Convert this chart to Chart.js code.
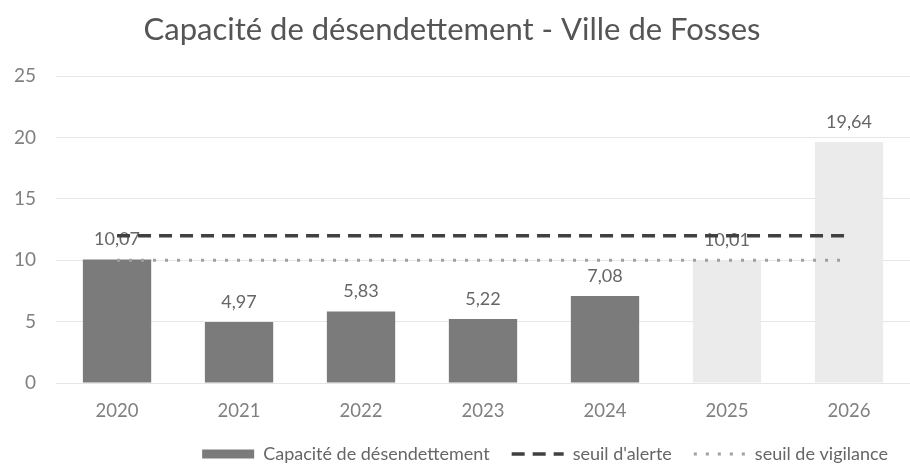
<!DOCTYPE html>
<html>
<head>
<meta charset="utf-8">
<script src="https://cdn.jsdelivr.net/npm/chart.js@4/dist/chart.umd.min.js"></script>
<style>
  html, body { margin: 0; padding: 0; background: #fff; overflow: hidden; }
  #wrap { width: 910px; height: 470px; }
</style>
</head>
<body>
<div id="wrap"><canvas id="myChart"></canvas></div>
<script>
var annees = ['2020', '2021', '2022', '2023', '2024', '2025', '2026'];
var capacite = [10.07, 4.97, 5.83, 5.22, 7.08, 10.01, 19.64];
var seuilAlerte = [12, 12, 12, 12, 12, 12, 12];
var seuilVigilance = [10, 10, 10, 10, 10, 10, 10];
var couleursBarres = ['#7b7b7b', '#7b7b7b', '#7b7b7b', '#7b7b7b', '#7b7b7b', '#ebebeb', '#ebebeb'];

var police = 'Lato, "Liberation Sans", sans-serif';

// valeurs au-dessus des barres, format francais
var etiquettes = {
    id: 'etiquettes',
    afterDatasetDraw: function (chart, args) {
        if (args.index !== 0) return;
        var ctx = chart.ctx;
        ctx.save();
        ctx.font = '18px ' + police;
        ctx.fillStyle = '#666';
        ctx.textAlign = 'center';
        ctx.textBaseline = 'alphabetic';
        args.meta.data.forEach(function (bar, i) {
            ctx.fillText(capacite[i].toFixed(2).replace('.', ','), bar.x, bar.y - 14);
        });
        ctx.restore();
    }
};

var ctx = document.getElementById('myChart');

const myChart = new Chart(ctx, {
    data: {
        labels: annees,
        datasets: [{
            type: 'bar',
            label: 'Capacité de désendettement',
            data: capacite,
            backgroundColor: couleursBarres,
            barPercentage: 0.56,
            categoryPercentage: 1,
            order: 3
        }, {
            type: 'line',
            label: "seuil d'alerte",
            data: seuilAlerte,
            borderColor: '#404040',
            borderWidth: 3.5,
            borderDash: [13, 8],
            pointRadius: 0,
            fill: false,
            order: 1
        }, {
            type: 'line',
            label: 'seuil de vigilance',
            data: seuilVigilance,
            borderColor: '#a0a0a0',
            borderWidth: 3,
            borderDash: [3, 9],
            pointRadius: 0,
            fill: false,
            order: 2
        }]
    },
    options: {
        responsive: true,
        maintainAspectRatio: false,
        animation: false,
        layout: { padding: { left: -6, right: 0, top: 0, bottom: -3 } },
        scales: {
            x: {
                grid: { display: false },
                border: { display: false },
                ticks: { color: '#808080', font: { family: police, size: 18.5 }, padding: 9 },
                afterFit: function (scale) { scale.height = 40; }
            },
            y: {
                min: 0,
                max: 25,
                ticks: { stepSize: 5, color: '#808080', font: { family: police, size: 19 }, padding: 20 },
                grid: { color: '#e6e6e6', drawTicks: false },
                border: { display: false }
            }
        },
        plugins: {
            title: {
                display: true,
                text: 'Capacité de désendettement - Ville de Fosses',
                color: '#555',
                font: { family: police, size: 31, weight: 'normal' },
                padding: { top: 11, bottom: 28 }
            },
            legend: {
                position: 'bottom',
                align: 'end',
                labels: {
                    color: '#666',
                    font: { family: police, size: 18 },
                    usePointStyle: true,
                    pointStyleWidth: 52,
                    boxHeight: 9,
                    padding: 22,
                    generateLabels: function (chart) {
                        var items = Chart.defaults.plugins.legend.labels.generateLabels(chart);
                        items.sort(function (a, b) { return a.datasetIndex - b.datasetIndex; });
                        items.forEach(function (it) {
                            var ds = chart.data.datasets[it.datasetIndex];
                            if (it.datasetIndex === 0) {
                                it.pointStyle = 'rect';
                                it.fillStyle = '#7b7b7b';
                                it.strokeStyle = '#7b7b7b';
                                it.lineWidth = 0;
                            } else {
                                it.pointStyle = 'line';
                                it.strokeStyle = ds.borderColor;
                                it.lineWidth = ds.borderWidth;
                                it.lineDash = ds.borderDash;
                            }
                        });
                        return items;
                    }
                }
            },
            tooltip: { enabled: false }
        }
    },
    plugins: [etiquettes]
});
</script>
</body>
</html>
